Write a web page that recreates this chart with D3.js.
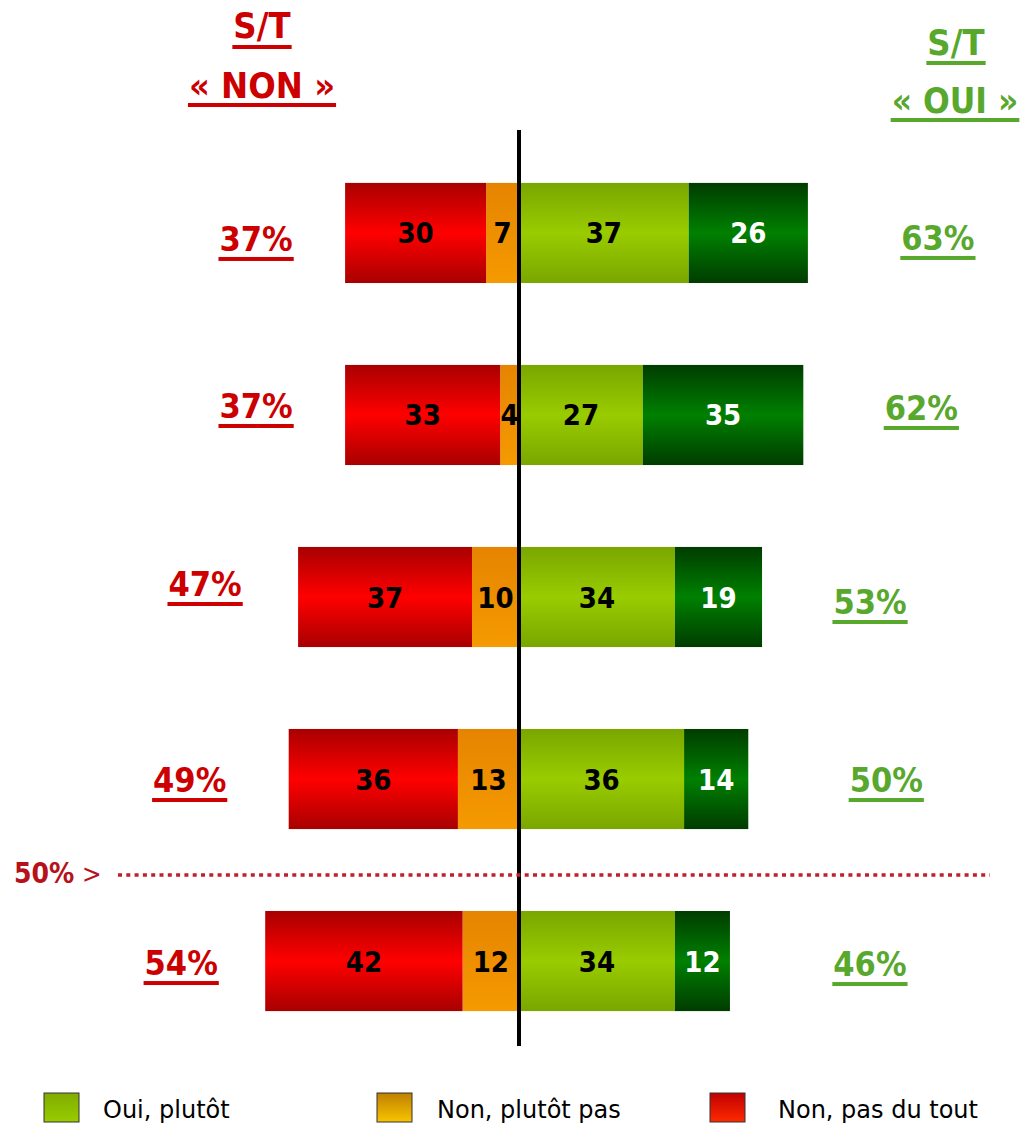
<!DOCTYPE html>
<html lang="fr">
<head>
<meta charset="utf-8">
<title>S/T oui / non</title>
<script src="https://cdn.jsdelivr.net/npm/d3@7"></script>
<style>
  body { margin: 0; background: #fff; }
  svg text { font-family: "DejaVu Sans Condensed", "DejaVu Sans", "Liberation Sans", sans-serif; }
</style>
</head>
<body>
<script>
// data
var rows = ["1", "2", "3", "4", "5"];
var nonPasDuTout = [30, 33, 37, 36, 42];
var nonPlutotPas = [7, 4, 10, 13, 12];
var ouiPlutot = [37, 27, 34, 36, 34];
var ouiTout = [26, 35, 19, 14, 12];
var stNon = [37, 37, 47, 49, 54];
var stOui = [63, 62, 53, 50, 46];
var legendLabels = ["Oui, plutôt", "Non, plutôt pas", "Non, pas du tout"];

// hand placement of the S/T labels in the original (offset from bar end / row centre)
var nonDx = [-89, -89, -93, -99, -84], nonDy = [5, -10, -14, 0, 1];
var ouiDx = [130, 118, 108, 138, 140], ouiDy = [4, -8, 4, 0, 2];

var W = 1021, H = 1123;
var RED = "#cc0000", GREEN = "#58a82e";

var svg = d3.select("body").append("svg")
  .attr("width", W).attr("height", H);

var defs = svg.append("defs");
function vgrad(id, stops) {
  var g = defs.append("linearGradient").attr("id", id)
    .attr("x1", 0).attr("y1", 0).attr("x2", 0).attr("y2", 1);
  stops.forEach(function(s) {
    g.append("stop").attr("offset", s[0]).attr("stop-color", s[1]);
  });
}
vgrad("gRed", [[0, "#a80000"], [0.5, "#ff0000"], [1, "#a80000"]]);
vgrad("gOrange", [[0, "#e68400"], [1, "#f59a00"]]);
vgrad("gLight", [[0, "#7aa600"], [0.5, "#99cc00"], [1, "#7aa600"]]);
vgrad("gDark", [[0, "#003c00"], [0.5, "#008000"], [1, "#003c00"]]);
vgrad("lGreen", [[0, "#80ac00"], [1, "#99cc00"]]);
vgrad("lOrange", [[0, "#c08000"], [1, "#f8c400"]]);
vgrad("lRed", [[0, "#c00000"], [1, "#ff2a00"]]);

// diverging scale, slightly different px per point each side (as in the picture)
var x = d3.scaleLinear().domain([-60, 0, 70]).range([237, 519, 840]);
var y = d3.scaleBand().domain(rows).range([101, 1093]).paddingInner(0.45).paddingOuter(0.45);

// build segments
var segs = [];
rows.forEach(function(r, i) {
  var a = nonPlutotPas[i], b = nonPasDuTout[i];
  segs.push({ r: r, x0: -a, x1: 0, v: a, fill: "url(#gOrange)", c: "#000" });
  segs.push({ r: r, x0: -a - b, x1: -a, v: b, fill: "url(#gRed)", c: "#000" });
  var c = ouiPlutot[i], d = ouiTout[i];
  segs.push({ r: r, x0: 0, x1: c, v: c, fill: "url(#gLight)", c: "#000" });
  segs.push({ r: r, x0: c, x1: c + d, v: d, fill: "url(#gDark)", c: "#fff" });
});

svg.selectAll("rect.seg").data(segs).enter().append("rect")
  .attr("class", "seg")
  .attr("x", function(d) { return x(d.x0); })
  .attr("y", function(d) { return y(d.r); })
  .attr("width", function(d) { return x(d.x1) - x(d.x0); })
  .attr("height", y.bandwidth())
  .attr("fill", function(d) { return d.fill; });

svg.selectAll("text.val").data(segs).enter().append("text")
  .attr("class", "val")
  .attr("x", function(d) { return (x(d.x0) + x(d.x1)) / 2; })
  .attr("y", function(d) { return y(d.r) + y.bandwidth() / 2 + 10.5; })
  .attr("text-anchor", "middle")
  .attr("font-size", 29).attr("font-weight", "bold")
  .attr("fill", function(d) { return d.c; })
  .text(function(d) { return d.v; });

// centre axis
svg.append("line")
  .attr("x1", x(0)).attr("x2", x(0)).attr("y1", 130).attr("y2", 1046)
  .attr("stroke", "#000").attr("stroke-width", 4);

// underlined text helper
function uText(cx, base, str, size, color, gap, thick) {
  var t = svg.append("text").attr("x", cx).attr("y", base)
    .attr("text-anchor", "middle").attr("font-size", size)
    .attr("font-weight", "bold").attr("fill", color).text(str);
  var w = t.node().getComputedTextLength();
  svg.append("rect").attr("x", cx - w / 2 - 1).attr("y", base + gap)
    .attr("width", w + 2).attr("height", thick).attr("fill", color);
}

// S/T labels next to bars
rows.forEach(function(r, i) {
  var cy = y(r) + y.bandwidth() / 2;
  uText(x(-stNon[i]) + nonDx[i], cy + 13 + nonDy[i], stNon[i] + "%", 34, RED, 6, 4);
  uText(x(stOui[i]) + ouiDx[i], cy + 13 + ouiDy[i], stOui[i] + "%", 34, GREEN, 6, 4);
});

// headers
uText(262, 38, "S/T", 36, RED, 7, 4);
uText(262, 98, "« NON »", 36, RED, 5, 4);
uText(956, 55, "S/T", 36, GREEN, 6, 4);
uText(955, 113, "« OUI »", 35, GREEN, 5, 4);

// 50% threshold
svg.append("text").attr("x", 14).attr("y", 883)
  .attr("font-size", 28).attr("font-weight", "bold").attr("fill", "#b5121b")
  .text("50%");
svg.append("text").attr("x", 82).attr("y", 883)
  .attr("font-size", 26).attr("fill", "#b5121b").text(">");
svg.append("line").attr("x1", 118).attr("x2", 990).attr("y1", 875).attr("y2", 875)
  .attr("stroke", "#c0202a").attr("stroke-width", 3.5)
  .attr("stroke-dasharray", "4 4.3");

// legend
var legX = [44, 377, 710];
var legTextX = [59, 60, 68];
var legFill = ["url(#lGreen)", "url(#lOrange)", "url(#lRed)"];
var leg = svg.selectAll("g.leg").data(legendLabels).enter().append("g")
  .attr("class", "leg")
  .attr("transform", function(d, i) { return "translate(" + legX[i] + ",1093)"; });
leg.append("rect").attr("width", 35).attr("height", 29)
  .attr("fill", function(d, i) { return legFill[i]; })
  .attr("stroke", "#333").attr("stroke-width", 1);
leg.append("text").attr("x", function(d, i) { return legTextX[i]; }).attr("y", 25)
  .style("font-family", "'DejaVu Sans', sans-serif")
  .attr("font-size", 24).attr("fill", "#000")
  .text(function(d) { return d; });
</script>
</body>
</html>
